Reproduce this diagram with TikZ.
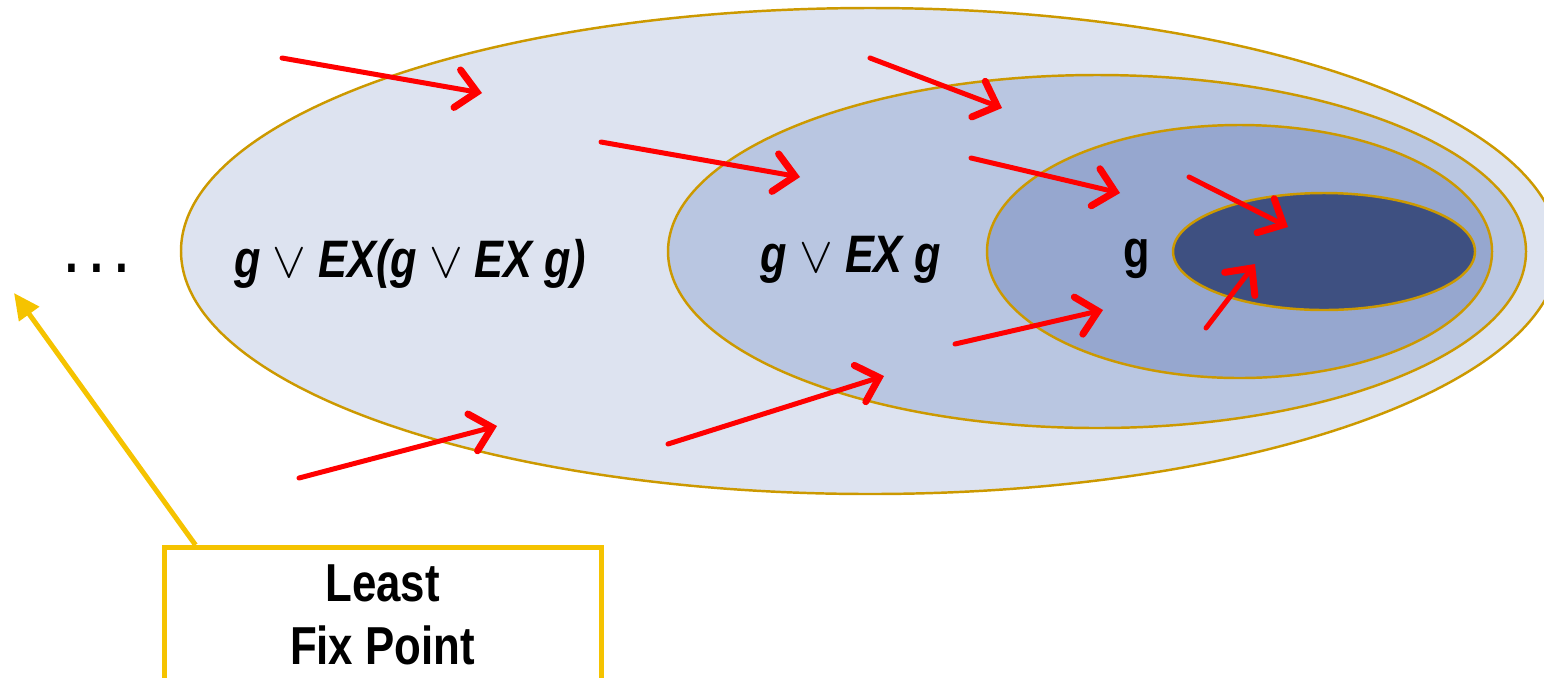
\documentclass[tikz,border=0pt]{standalone}
\usepackage{fontspec}
\setmainfont{Liberation Sans}[FakeStretch=0.82]
\usetikzlibrary{shapes.geometric,arrows.meta,positioning}
\definecolor{setA}{RGB}{221,227,240}
\definecolor{setB}{RGB}{185,198,225}
\definecolor{setC}{RGB}{150,167,207}
\definecolor{setD}{RGB}{62,80,129}
\definecolor{rim}{RGB}{204,153,0}
\definecolor{fixyellow}{RGB}{245,195,0}

\begin{document}
\begin{tikzpicture}[x=0.1mm, y=-0.1mm,
    set/.style={draw=rim, line width=0.7pt, ellipse, inner sep=0pt},
    redarr/.style={draw=red, line width=0.5mm, line cap=round, -{Straight Barb[length=2mm, width=3.8mm, line width=0.2mm 1, line cap=round]}},
    fixarr/.style={draw=fixyellow, line width=0.5mm, -{Triangle[length=2.6mm, width=2.4mm]}},
    lbl/.style={font=\fontsize{15}{18}\selectfont\bfseries\itshape, anchor=base}]
    \clip (0,0) rectangle (1544,677);

    % nested sets
    \node[set, fill=setA, minimum width=137.8mm, minimum height=48.6mm] (outer) at (870,251) {};
    \node[set, fill=setB, minimum width=85.8mm, minimum height=35.3mm] (mid) at (1097,251.5) {};
    \node[set, fill=setC, minimum width=50.5mm, minimum height=25.3mm] (core) at (1239.5,251.5) {};
    \node[set, fill=setD, minimum width=30.2mm, minimum height=11.7mm] (goal) at (1324,251.5) {};

    \node[lbl] (outerlbl) at (410,277) {g $\vee$ EX(g $\vee$ EX g)};
    \node[lbl] (midlbl) at (851,272) {g $\vee$ EX g};
    \node[lbl, font=\fontsize{15}{18}\selectfont\bfseries] (corelbl) at (1137,267) {g};
    \node[anchor=base, font=\fontsize{16}{18}\selectfont\bfseries] (dots) at (97,272) {.\hspace{1.2mm}.\hspace{1.2mm}.};

    % red steps
    \foreach \i/\sx/\sy/\ex/\ey in {1/282/58/482/93, 2/870/58/1002/108, 3/601/142/800/177,
        4/971/158/1120/193, 5/1189/177/1288/227, 6/955/344/1103/310,
        7/1206/328/1255/264, 8/668/444/884/376, 9/299/478/497/426}{
        \coordinate (s\i) at (\sx,\sy);
        \coordinate (e\i) at (\ex,\ey);
        \draw[redarr] (s\i) -- (e\i);
    }

    % least fix point
    \node[draw=fixyellow, line width=0.5mm, anchor=north, minimum width=43.7mm, inner ysep=1.7mm,
        text depth=4mm, align=center, font=\fontsize{15.2}{18}\selectfont\bfseries] (lfp) at (382.5,545) {Least\\Fix Point};
    \coordinate (dotstip) at (14,293);
    \draw[fixarr] ([xshift=3.4mm]lfp.north west) -- (dotstip);
\end{tikzpicture}
\end{document}
